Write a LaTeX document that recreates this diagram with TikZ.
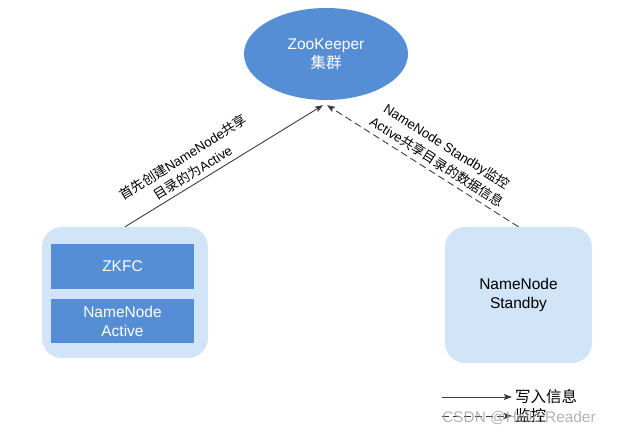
\documentclass[tikz,border=0pt]{standalone}
\usepackage{fontspec}
\setmainfont{Liberation Sans}
\newfontfamily\cjk{Noto Sans CJK SC}
\usetikzlibrary{arrows.meta,shapes.geometric}
\definecolor{zkblue}{RGB}{85,142,213}
\definecolor{lightblue}{RGB}{210,228,248}
\definecolor{linegray}{RGB}{60,60,60}
\begin{document}
\begin{tikzpicture}[x=1pt,y=-1pt,
  bigtext/.style={font=\fontsize{15.5}{19}\selectfont, align=center},
  lbltext/.style={font=\fontsize{13.3}{18.4}\selectfont, align=center, inner sep=0pt},
  outerbox/.style={fill=lightblue, rounded corners=20pt, inner sep=0pt},
  innerbox/.style={fill=zkblue, text=white, inner sep=0pt, bigtext},
  conn/.style={draw=linegray, line width=0.9pt, -{Stealth[length=8pt,width=6pt,inset=1.5pt]}},
  dashconn/.style={conn, dash pattern=on 7pt off 4pt}
]
\useasboundingbox (0,0) rectangle (625,435);
% ZooKeeper cluster
\node[ellipse, fill=zkblue, text=white, minimum width=164pt, minimum height=92pt, inner sep=0pt, bigtext] (zk) at (326,54) {ZooKeeper\\{\cjk 集群}};
% left box
\node[outerbox, minimum width=166pt, minimum height=131pt] (lbox) at (125,292.5) {};
\node[innerbox, minimum width=143pt, minimum height=45pt] (zkfc) at (122.5,266.5) {ZKFC};
\node[innerbox, minimum width=143pt, minimum height=44pt] (nna) at (122.5,321) {NameNode\\Active};
% right box
\node[outerbox, minimum width=147pt, minimum height=136pt, bigtext] (rbox) at (518.5,295) {NameNode\\Standby};
% connectors
\coordinate (zkin1) at ([shift={(-3,5)}]zk.south);
\coordinate (zkin2) at ([shift={(1,5)}]zk.south);
\draw[conn] (lbox.north) -- (zkin1);
\draw[dashconn] (rbox.north) -- (zkin2);
% connector labels
\node[lbltext, rotate=32.1] (lbl1) at (188,165) {{\cjk 首先创建}NameNode{\cjk 共享}\\{\cjk 目录的为}Active};
\node[lbltext, rotate=-32.5] (lbl2) at (442,154) {NameNode Standby{\cjk 监控}\\Active{\cjk 共享目录的数据信息}};
% legend
\coordinate (lg1) at (442,397);
\coordinate (lg2) at (442,416);
\node[anchor=west, inner sep=3pt, font=\fontsize{15.5}{19}\selectfont] (lgt1) at (512,397) {\cjk 写入信息};
\node[anchor=west, inner sep=3pt, font=\fontsize{15.5}{19}\selectfont] (lgt2) at (512,416) {\cjk 监控};
\draw[conn] (lg1) -- (lgt1.west);
\draw[dashconn] (lg2) -- (lgt2.west);
% watermark
\node[text=gray!75, opacity=0.8, font=\fontsize{15.4}{18}\selectfont, inner sep=0pt] (wm) at (519,418) {CSDN @Hello.Reader};
\end{tikzpicture}
\end{document}
